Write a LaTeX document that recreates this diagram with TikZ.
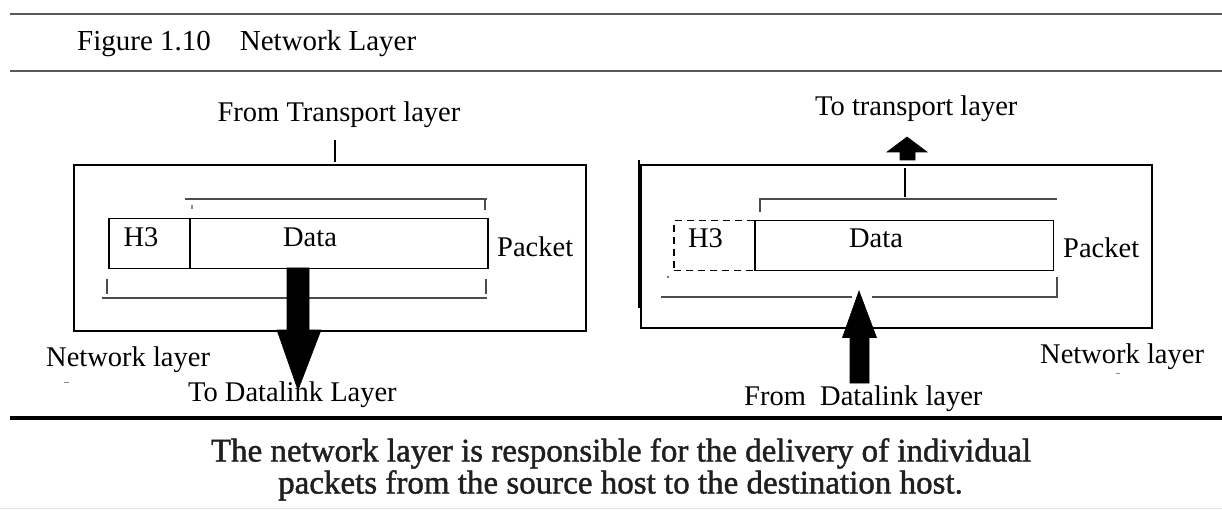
\documentclass[tikz,border=0pt]{standalone}
\usepackage{fontspec}
\setmainfont{Liberation Serif}
\newfontfamily\captionserif[FakeBold=1.3]{Liberation Serif}
\usetikzlibrary{calc}
\tikzset{
  lbl/.style={font=\fontsize{28.5}{34}\selectfont, inner sep=0pt, anchor=base west},
  ctr/.style={font=\fontsize{28.5}{34}\selectfont, inner sep=0pt, anchor=base},
  capt/.style={font=\captionserif\fontsize{33}{30}\selectfont, text=black!88, inner sep=0pt, anchor=base},
  frame/.style={draw=black, line width=1.6pt, inner sep=0pt, anchor=north west},
  cell/.style={draw=black, line width=1.5pt, inner sep=0pt, anchor=north west},
  hdrcell/.style={cell, dashed, dash pattern=on 7pt off 5pt},
  brace/.style={draw=black!70, line width=2pt},
  rule/.style={draw=black!65, line width=2.5pt},
  blockarrow/.style={fill=black, draw=black, line width=0.6pt, line join=miter},
  speck/.style={draw=black!45, line width=1.5pt},
}
\begin{document}
\begin{tikzpicture}[x=1pt,y=-1pt]
\useasboundingbox (0,0) rectangle (1222,510);
\fill[white] (0,0) rectangle (1222,510);

% heading
\draw[rule] (10,14) -- (1222,14);
\draw[rule] (10,71) -- (1222,71);
\node[lbl, font=\fontsize{29}{34}\selectfont] (title) at (77,51) {Figure 1.10\quad Network Layer};

% ---------------- sender side ----------------
\node[ctr] (fromT) at (339,122) {From Transport layer};
\coordinate (lin1) at (335,140);
\coordinate (lin2) at (335,162);
\draw[line width=2.5pt] (lin1) -- (lin2);

\node[frame, minimum width=512pt, minimum height=166pt] (lnet) at (73,164) {};

% upper bracket
\coordinate (lub1) at (185,199);
\coordinate (lub2) at (487,199);
\draw[brace] (lub1) -- (lub2);
\draw[brace] ($(lub2)+(-2,0)$) -- ++(0,11);
\draw[speck] (192,205) -- (192,209);

% packet
\node[cell, minimum width=81pt, minimum height=50pt] (lh3) at (108,218) {};
\node[cell, minimum width=298pt, minimum height=50pt] (ldata) at (189,218) {};
\node[ctr] (lh3t) at (141,247) {H3};
\node[ctr] (ldatat) at (310,247) {Data};
\node[lbl] (lpkt) at (497,257) {Packet};

% lower bracket
\coordinate (llb1) at (102,298.5);
\coordinate (llb2) at (487,298.5);
\draw[brace] (llb1) -- (llb2);
\draw[brace] (106.5,279) -- (106.5,294);
\draw[brace] (485.5,279) -- (485.5,294);

% arrow down to the data link layer
\coordinate (ldn) at (298,268);
\filldraw[blockarrow] ($(ldn)+(-11,0)$) -- ($(ldn)+(11,0)$) -- ($(ldn)+(11,62)$)
  -- ($(ldn)+(23,62)$) -- ($(ldn)+(0,122)$) -- ($(ldn)+(-21,62)$)
  -- ($(ldn)+(-11,62)$) -- cycle;

\node[lbl] (lnetl) at (46,366) {Network layer};
\draw[speck, line width=1pt] (64,382) -- (69,382);
\node[lbl] (toD) at (188,401.5) {To Datalink Layer};

% ---------------- receiver side ----------------
\node[lbl] (toT) at (815,116) {To transport layer};
\coordinate (rup) at (907,137);
\filldraw[blockarrow] (rup) -- ($(rup)+(20,15)$) -- ($(rup)+(8,15)$) -- ($(rup)+(8,23)$)
  -- ($(rup)+(-7,23)$) -- ($(rup)+(-7,15)$) -- ($(rup)+(-20,15)$) -- cycle;
\coordinate (rout1) at (905,168);
\coordinate (rout2) at (905,197);
\draw[line width=2.8pt] (rout1) -- (rout2);

\node[frame, minimum width=511pt, minimum height=163pt] (rnet) at (640,164) {};
\draw[line width=2.5pt] (639,160) -- (639,308);

% upper bracket
\coordinate (rub1) at (759,199);
\coordinate (rub2) at (1057,199);
\draw[brace] (rub1) -- (rub2);
\draw[brace] ($(rub1)+(0.5,0)$) -- ++(0,13);

% packet with the header already removed
\node[hdrcell, minimum width=81pt, minimum height=50pt] (rh3) at (673,220) {};
\node[cell, minimum width=298.7pt, minimum height=50pt] (rdata) at (754,220) {};
\node[ctr] (rh3t) at (705.5,248) {H3};
\node[ctr] (rdatat) at (876,248) {Data};
\node[lbl] (rpkt) at (1063,258) {Packet};
\fill[black!55] (668,277) circle (1.3pt);

% lower bracket, open where the arrow passes
\coordinate (rlb1) at (661,297.5);
\coordinate (rlb2) at (852,297.5);
\coordinate (rlb3) at (872,297.5);
\coordinate (rlb4) at (1057,297.5);
\draw[brace] (rlb1) -- (rlb2);
\draw[brace] (rlb3) -- (rlb4) -- ++(0,-20.5);

% arrow up from the data link layer
\coordinate (rin) at (859,291);
\filldraw[blockarrow] (rin) -- ($(rin)+(17.5,46.5)$) -- ($(rin)+(10,46.5)$) -- ($(rin)+(10,92)$)
  -- ($(rin)+(-9,92)$) -- ($(rin)+(-9,46.5)$) -- ($(rin)+(-16.5,46.5)$) -- cycle;

\node[lbl] (rnetl) at (1040,363) {Network layer};
\draw[speck, line width=1pt] (1116,373) -- (1120,373);
\node[lbl] (fromD) at (744,405) {From\ \ Datalink layer};

% caption
\draw[line width=3.5pt] (10,418) -- (1222,418);
\node[capt] (cap1) at (621,461.5) {The network layer is responsible for the delivery of individual};
\node[capt] (cap2) at (620.5,493.5) {packets from the source host to the destination host.};
\draw[black!12, line width=1pt] (0,508.5) -- (1222,508.5);
\end{tikzpicture}
\end{document}
